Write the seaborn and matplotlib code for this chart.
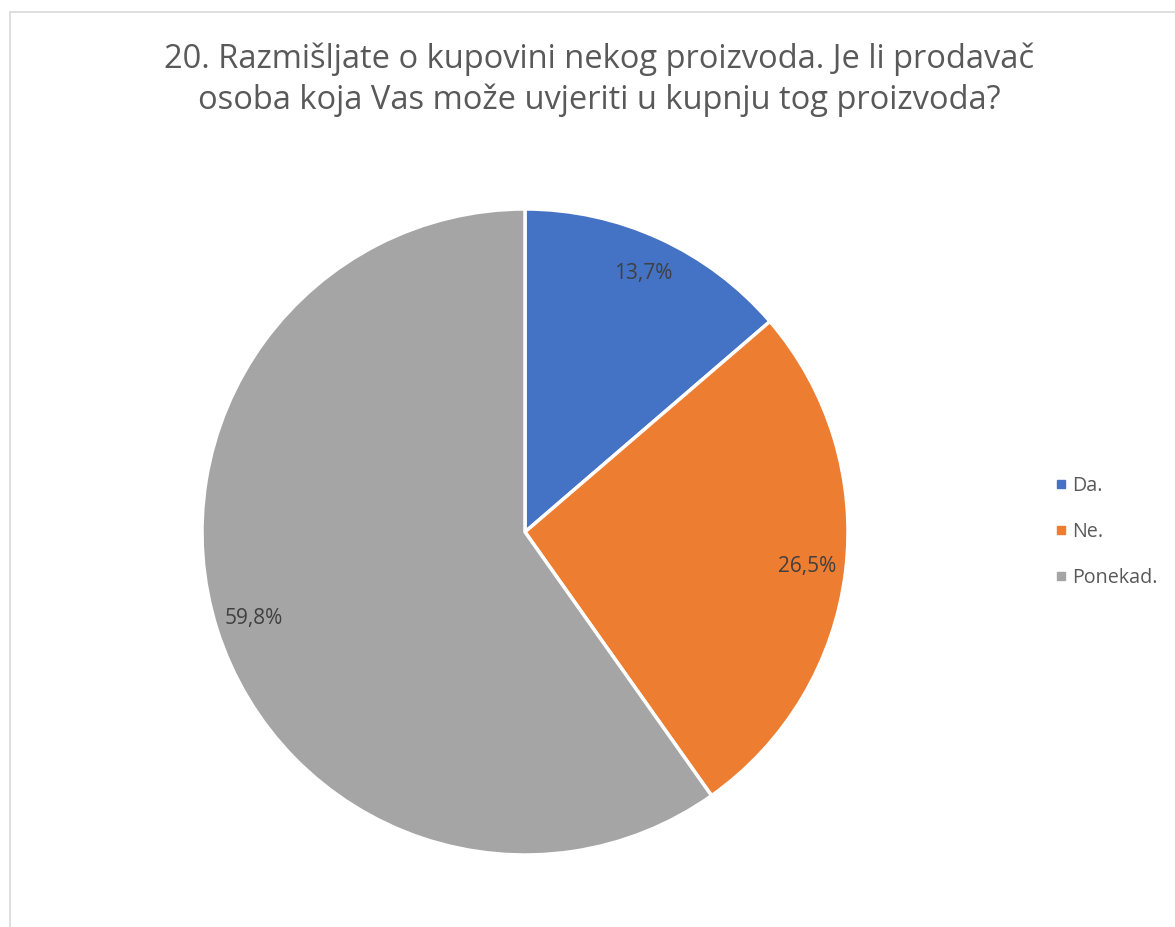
import matplotlib
matplotlib.use("Agg")
import matplotlib.pyplot as plt
import seaborn as sns
from matplotlib.lines import Line2D

categories = ["Da.", "Ne.", "Ponekad."]
values = [13.7, 26.5, 59.8]
colors = ["#4472C4", "#ED7D31", "#A5A5A5"]
title = "20. Razmišljate o kupovini nekog proizvoda. Je li prodavač\nosoba koja Vas može uvjeriti u kupnju tog proizvoda?"

sns.set_theme(style="white")
plt.rcParams['font.family'] = ['Open Sans', 'DejaVu Sans']

W, H = 1175, 927
fig = plt.figure(figsize=(W / 100, H / 100), dpi=100)
fig.patch.set_facecolor("white")

cx, cy, R = 525, 532, 323
ax = fig.add_axes([(cx - R) / W, (H - cy - R) / H, 2 * R / W, 2 * R / H])
wedges, texts, autotexts = ax.pie(
    values, colors=colors, startangle=90, counterclock=False,
    autopct=lambda p: f"{p:.1f}%".replace(".", ","), pctdistance=0.88,
    wedgeprops=dict(edgecolor="white", linewidth=2.5),
    textprops=dict(color="#404040", fontsize=15))
ax.set_xlim(-1, 1)
ax.set_ylim(-1, 1)
ax.set_aspect("equal")

fig.text(599 / W, 1 - 80 / H, title, ha="center", va="center", fontsize=23.5,
         color="#595959", linespacing=1.3)

handles = [Line2D([], [], marker="s", linestyle="none", markersize=6,
                  markerfacecolor=c, markeredgecolor=c) for c in colors]
fig.legend(handles, categories, loc="center left", bbox_to_anchor=(1045 / W, 1 - 532 / H),
           frameon=False, fontsize=14.2, labelcolor="#595959", handletextpad=0.2,
           handlelength=0.8, labelspacing=1.3, borderaxespad=0)

# chart border
fig.add_artist(Line2D([9.5 / W, 9.5 / W], [0, 1 - 11.5 / H], transform=fig.transFigure,
                      color="#D9D9D9", linewidth=1.2))
fig.add_artist(Line2D([9.5 / W, 1], [1 - 11.5 / H, 1 - 11.5 / H], transform=fig.transFigure,
                      color="#D9D9D9", linewidth=1.2))

fig.savefig("out.png", dpi=100, facecolor="white")
